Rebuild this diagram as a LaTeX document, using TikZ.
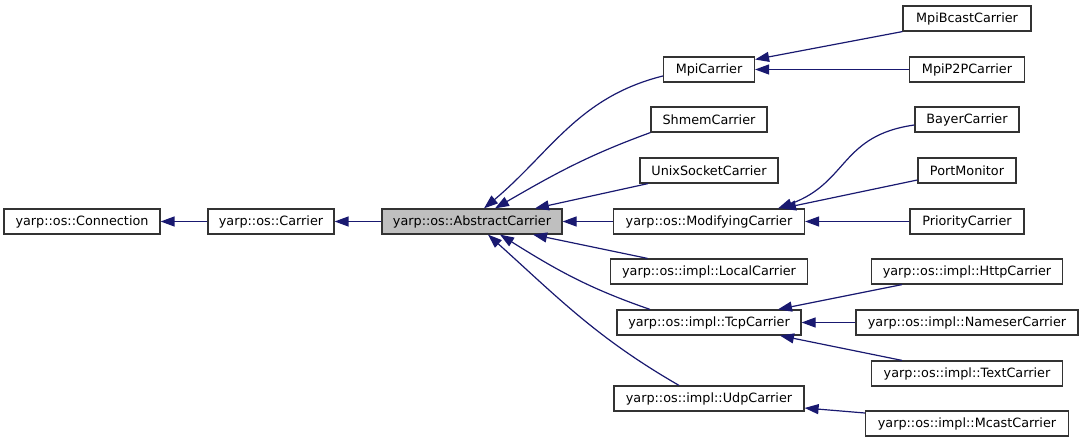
\documentclass[tikz,border=0pt]{standalone}
\usepackage{fontspec}
\setmainfont{DejaVu Sans}
\usepackage{tikz}
\usepackage{xcolor}
\usetikzlibrary{arrows.meta,positioning}

\definecolor{midnight}{RGB}{25,25,112}

\begin{document}
\begin{tikzpicture}[->,>={Triangle[length=14pt,width=10pt]},on grid,
                    line width=1.2pt]
  \tikzstyle{cls}=[draw=black!80,fill=white,minimum height=25pt,inner xsep=0pt,
                   font=\fontsize{12.8}{15}\selectfont,text=black]
  \tikzstyle{base}=[cls,fill=black!25]
  \tikzstyle{every edge}=[draw=midnight,->]

  \node[base,minimum width=180pt] (Abs)                        {yarp::os::AbstractCarrier};
  \node[cls,minimum width=126pt] (Car) [left=201pt of Abs]     {yarp::os::Carrier};
  \node[cls,minimum width=156pt] (Con) [left=189pt of Car]     {yarp::os::Connection};
  \node[cls,minimum width=191pt] (Mod) [right=237pt of Abs]    {yarp::os::ModifyingCarrier};
  \node[cls,minimum width=138pt] (Unix) [above=51pt of Mod]    {UnixSocketCarrier};
  \node[cls,minimum width=116pt] (Shm) [above=51pt of Unix]    {ShmemCarrier};
  \node[cls,minimum width=91pt]  (Mpi) [above=50pt of Shm]     {MpiCarrier};
  \node[cls,minimum width=197pt] (Loc) [below=50pt of Mod]     {yarp::os::impl::LocalCarrier};
  \node[cls,minimum width=184pt] (Tcp) [below=51pt of Loc]     {yarp::os::impl::TcpCarrier};
  \node[cls,minimum width=190pt] (Udp) [below=76pt of Tcp]     {yarp::os::impl::UdpCarrier};

  \node[cls,minimum width=128pt] (Bcast) [above right=51pt and 258pt of Mpi] {MpiBcastCarrier};
  \node[cls,minimum width=115pt] (P2P) [right=258pt of Mpi]    {MpiP2PCarrier};
  \node[cls,minimum width=104pt] (Bay) [right=258pt of Shm]    {BayerCarrier};
  \node[cls,minimum width=98pt]  (Port) [right=258pt of Unix]  {PortMonitor};
  \node[cls,minimum width=114pt] (Prio) [right=258pt of Mod]   {PriorityCarrier};
  \node[cls,minimum width=191pt] (Http) [right=258pt of Loc]   {yarp::os::impl::HttpCarrier};
  \node[cls,minimum width=222pt] (Names) [right=258pt of Tcp]  {yarp::os::impl::NameserCarrier};
  \node[cls,minimum width=191pt] (Text) [below=51pt of Names]  {yarp::os::impl::TextCarrier};
  \node[cls,minimum width=203pt] (Mcast) [below right=25pt and 258pt of Udp] {yarp::os::impl::McastCarrier};

  \path (Car) edge (Con)
        (Abs) edge (Car)
        ([yshift=-6.5pt]Mpi.west) edge [out=194,in=40] ([xshift=12pt]Abs.north)
        (Shm.south west) edge [out=200,in=30] ([xshift=23pt]Abs.north)
        ([xshift=-61pt]Unix.south) edge ([xshift=63pt]Abs.north)
        (Mod) edge (Abs)
        ([xshift=-61.5pt]Loc.north) edge ([xshift=61pt]Abs.south)
        ([xshift=-59pt]Tcp.north) edge [out=161,in=-32] ([xshift=28pt]Abs.south)
        ([xshift=-30pt]Udp.north) edge [out=150,in=-42] ([xshift=16pt]Abs.south)
        (Bcast.south west) edge ([yshift=10pt]Mpi.east)
        (P2P) edge (Mpi)
        ([yshift=-5.5pt]Bay.west) edge [out=188,in=20,looseness=1.2] ([xshift=69pt]Mod.north)
        ([yshift=-9.5pt]Port.west) edge ([xshift=73pt]Mod.north)
        (Prio) edge (Mod)
        ([xshift=-65pt]Http.south) edge ([xshift=69pt]Tcp.north)
        (Names) edge (Tcp)
        ([xshift=-65pt]Text.north) edge ([xshift=71pt]Tcp.south)
        ([yshift=10.5pt]Mcast.west) edge ([yshift=-9.5pt]Udp.east)
        ;

  \path[use as bounding box] (-472pt,-221.5pt) rectangle (612pt,221.5pt);
\end{tikzpicture}
\end{document}
